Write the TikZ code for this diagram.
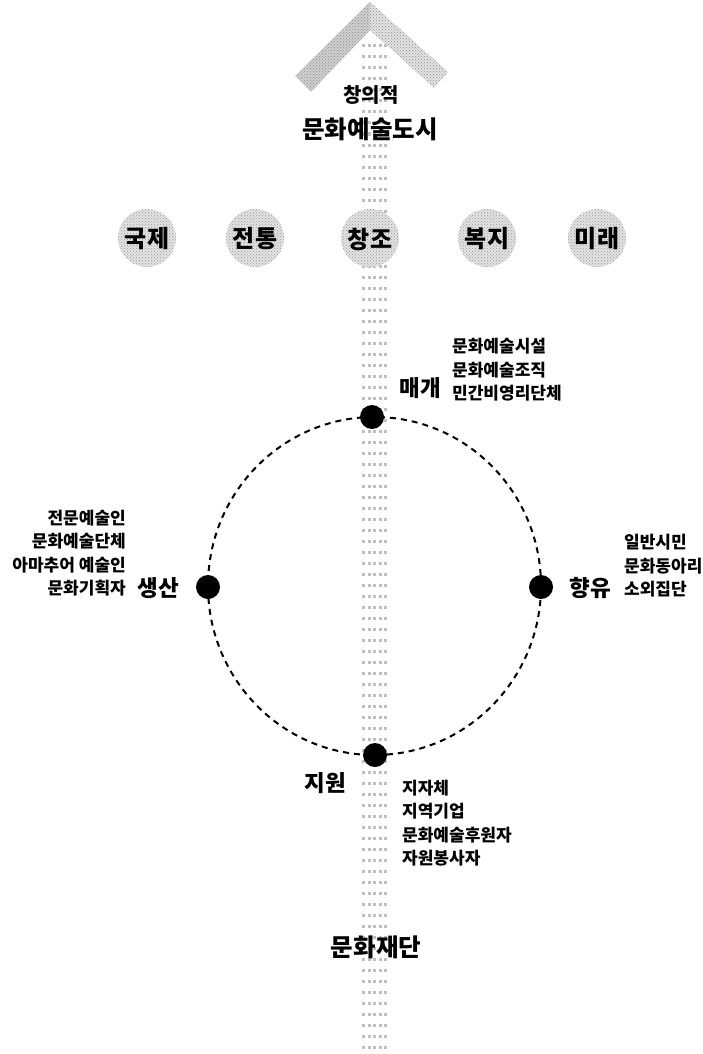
\documentclass[tikz,border=0pt]{standalone}
\usepackage{fontspec}
\setmainfont{Noto Sans CJK KR}
\newfontfamily\heavy{Noto Sans CJK KR Black}
\usetikzlibrary{patterns}
\begin{document}
\begin{tikzpicture}[x=1pt,y=-1pt,
  head/.style={font=\heavy\fontsize{24.5}{26}\selectfont, inner sep=0pt},
  sub/.style={font=\heavy\fontsize{20}{22}\selectfont, inner sep=0pt},
  val/.style={font=\heavy\fontsize{24}{26}\selectfont, inner sep=0pt},
  role/.style={font=\heavy\fontsize{22.5}{24}\selectfont, inner sep=0pt},
  members/.style={font=\fontsize{17}{23.5}\selectfont\bfseries, inner sep=0pt},
  dot/.style={circle, fill=black, minimum size=24pt, inner sep=0pt},
  halo/.style={pattern=crosshatch dots, pattern color=gray!80},
  stripe/.style={gray!50, line width=3pt, dash pattern=on 3pt off 2.5pt},
  ring/.style={line width=2pt, dash pattern=on 6pt off 5pt}
]
\useasboundingbox (0,0) rectangle (703,1054);
% vertical textured stripe
\foreach \y in {46,57,...,1052} {
  \draw[stripe] (362,\y) -- (387,\y);
}
% chevron arrow head
\fill[gray!22] (370,30) -- (434,88) -- (448,72) -- (370,2) -- cycle;
\fill[gray!38] (370,2) -- (370,30) -- (311,92) -- (295,76) -- cycle;
\fill[pattern=crosshatch dots, pattern color=gray!90] (370,2) -- (448,72) -- (434,88) -- (370,30) -- (311,92) -- (295,76) -- cycle;
% value halos
\foreach \x in {147,255,370,487,597} {
  \fill[gray!22] (\x,238) circle[radius=29pt];
  \fill[halo] (\x,238) circle[radius=29pt];
}
% title
\node[sub] (chang) at (371,95) {창의적};
\node[head] (city) at (370,129) {문화예술도시};
% values
\node[val] (gukje) at (147,239) {국제};
\node[val] (jeontong) at (255,239) {전통};
\node[val] (changjo) at (370,239) {창조};
\node[val] (bokji) at (487,239) {복지};
\node[val] (mirae) at (597,239) {미래};
% cycle
\draw[ring] (374.5,586) ellipse[x radius=166.5pt, y radius=169pt];
\node[dot] (dmaegae) at (372,417) {};
\node[dot] (dsaengsan) at (208,587) {};
\node[dot] (dhyangyu) at (541,587) {};
\node[dot] (djiwon) at (375,755) {};
% roles
\node[role] (maegae) at (420,388) {매개};
\node[role] (saengsan) at (158,588) {생산};
\node[role] (hyangyu) at (590,588) {향유};
\node[role] (jiwon) at (325,783) {지원};
% members
\node[members, anchor=west, align=left] (mmaegae) at (452,370) {문화예술시설\\문화예술조직\\민간비영리단체};
\node[members, anchor=east, align=right] (msaengsan) at (126,553) {전문예술인\\문화예술단체\\아마추어 예술인\\문화기획자};
\node[members, anchor=west, align=left] (mhyangyu) at (624,566) {일반시민\\문화동아리\\소외집단};
\node[members, anchor=west, align=left] (mjiwon) at (402,823) {지자체\\지역기업\\문화예술후원자\\자원봉사자};
% foundation
\node[head] (jaedan) at (376,947) {문화재단};
\end{tikzpicture}
\end{document}
